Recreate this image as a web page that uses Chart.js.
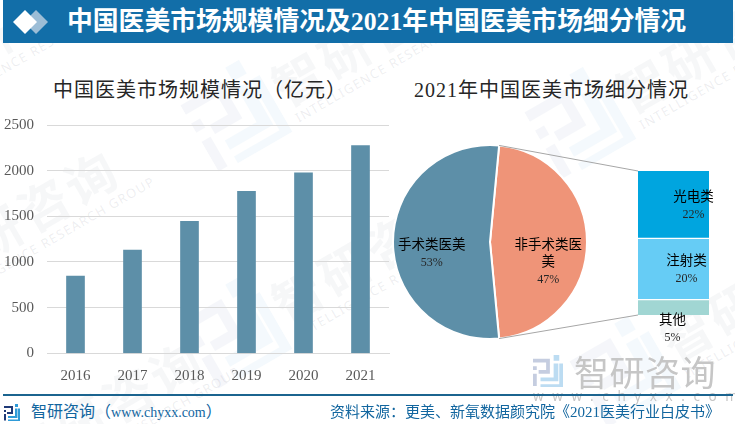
<!DOCTYPE html>
<html>
<head>
<meta charset="utf-8">
<script src="https://cdn.jsdelivr.net/npm/chart.js@4"></script>
<style>
html, body { margin: 0; padding: 0; background: #fff; }
#page { position: relative; width: 735px; height: 424px; overflow: hidden; font-family: "Liberation Serif", "Noto Sans CJK SC", serif; }
#page > * { position: absolute; }
canvas { position: absolute; }
#header { left: 3px; top: 0; width: 730px; height: 43px; background: #126ea8; }
#headerTitle { left: 67px; top: 6px; font-size: 25.8px; line-height: 32px; font-weight: bold; color: #fff; white-space: nowrap; }
.chartTitle { font-size: 20px; line-height: 26px; color: #262626; white-space: nowrap; letter-spacing: 1px; }
#footerLine { left: 3px; top: 394px; width: 730px; height: 2px; background: #1b648f; }
#footerLeft { left: 31px; top: 402px; font-size: 16px; line-height: 20px; color: #12669f; white-space: nowrap; }
#footerLeft span { font-size: 14px; }
#footerRight { left: 330px; top: 402px; font-size: 15px; line-height: 20px; color: #12669f; white-space: nowrap; }
.mark { left: 0; top: 0; transform-origin: 0 0; white-space: nowrap; }
.mark .cn { position: absolute; left: 38px; top: -32px; font-family: "Noto Sans CJK SC", sans-serif; font-size: 50px; line-height: 60px; letter-spacing: 4px; font-weight: bold; color: rgba(110,115,130,.06); }
.mark .en { position: absolute; left: 42px; top: 26px; font-family: "Noto Sans", sans-serif; font-size: 13px; line-height: 16px; letter-spacing: 1.2px; color: rgba(110,115,130,.12); }
.mark svg { position: absolute; left: -52px; top: -46px; width: 84px; height: 90px; opacity: .08; }
#bigCn { left: 574px; top: 350px; font-family: "Noto Sans CJK SC", sans-serif; font-size: 35px; line-height: 42px; letter-spacing: .5px; color: #c6c6c6; white-space: nowrap; }
#bigEn { left: 533px; top: 388px; font-family: "Noto Sans", sans-serif; font-size: 13.5px; line-height: 16px; letter-spacing: 8.6px; color: #c6c6c6; white-space: nowrap; }
</style>
</head>
<body>
<div id="page">
  <svg width="0" height="0" style="position:absolute">
    <symbol id="logoDark" viewBox="0 0 32 34"><path d="M0 4H18V20H6V16H14V8H0ZM0 12H4V16H0ZM0 20H4V33H0Z"/></symbol>
    <symbol id="logoLight" viewBox="0 0 32 34"><path d="M22 0H28V6H22ZM22 9H27V28H8V24H22ZM28 9H32V34H8V31H28Z"/></symbol>
  </svg>
  <div id="marks"></div>

  <canvas id="barChart" width="400" height="277" style="left:0;top:103px;width:400px;height:277px"></canvas>
  <canvas id="pieChart" width="200" height="200" style="left:390px;top:142px;width:200px;height:200px"></canvas>
  <canvas id="stackChart" width="355" height="230" style="left:380px;top:130px;width:355px;height:230px"></canvas>

  <div class="chartTitle" style="left:53px;top:77px">中国医美市场规模情况（亿元）</div>
  <div class="chartTitle" style="left:414px;top:77px">2021年中国医美市场细分情况</div>

  <svg style="left:533px;top:355px" width="30" height="32"><use href="#logoDark" fill="#c5cde0"/></svg>
  <svg style="left:533px;top:355px" width="30" height="32"><use href="#logoLight" fill="#bcdcf2"/></svg>
  <div id="bigCn">智研咨询</div>
  <div id="bigEn">www.chyxx.com</div>

  <div id="header"></div>
  <svg style="left:12px;top:9px" width="38" height="26">
    <polygon points="24,1 36,13 24,25 12,13" fill="#9cbdd6"/>
    <polygon points="13,1 25,13 13,25 1,13" fill="#fff"/>
  </svg>
  <div id="headerTitle">中国医美市场规模情况及2021年中国医美市场细分情况</div>

  <div id="footerLine"></div>
  <svg style="left:3px;top:404px" width="18" height="17"><use href="#logoDark" fill="#1f3a78"/></svg>
  <svg style="left:3px;top:404px" width="18" height="17"><use href="#logoLight" fill="#2f9bd8"/></svg>
  <div id="footerLeft">智研咨询（<span>www.chyxx.com</span>）</div>
  <div id="footerRight">资料来源：更美、新氧数据颜究院《2021医美行业白皮书》</div>
</div>

<script>
// Chart data
const years = ['2016', '2017', '2018', '2019', '2020', '2021'];
const marketSize = [845, 1130, 1446, 1774, 1975, 2274];
const yTicks = [0, 500, 1000, 1500, 2000, 2500];

const pieLabels = ['非手术类医美', '手术类医美'];
const pieValues = [47, 53];

const stackLabels = ['光电类', '注射类', '其他'];
const stackValues = [22, 20, 5];

const serif = '"Liberation Serif", "Noto Sans CJK SC", serif';
const pieColors = ['#ef9478', '#5d8fa8'];
const stackColors = ['#00a5df', '#66ccf5', '#a1d6d3'];

// Watermarks
const markSpots = [[243, 110], [243, 327], [587, 117], [632, 366], [-105, 290], [-116, 98], [-20, 480]];
document.getElementById('marks').innerHTML = markSpots.map(p =>
    `<div class="mark" style="transform:translate(${p[0]}px,${p[1]}px) rotate(-30deg)">
       <svg viewBox="0 0 32 34"><use href="#logoDark" fill="#8a9cc8"/><use href="#logoLight" fill="#7fc0ea"/></svg>
       <span class="cn">智研咨询</span>
       <span class="en">INTELLIGENCE RESEARCH GROUP</span>
     </div>`).join('');

// Two lines of text in a slice or segment: name on top, percent below
function drawLabel(ctx, lines, percent, x, y) {
    ctx.save();
    ctx.textAlign = 'center';
    ctx.textBaseline = 'middle';
    ctx.fillStyle = '#000';
    ctx.font = '13.5px ' + serif;
    lines.forEach((line, i) => ctx.fillText(line, x, y + i * 17.5));
    ctx.fillStyle = '#262626';
    ctx.font = '12px ' + serif;
    ctx.fillText(percent, x, y + lines.length * 17.5);
    ctx.restore();
}

function wrap(text, size) {
    let out = [];
    for (let i = 0; i < text.length; i += size) out.push(text.slice(i, i + size));
    return out;
}

new Chart(document.getElementById('barChart'), {
    type: 'bar',
    data: {
        labels: years,
        datasets: [{ data: marketSize, backgroundColor: '#5d8fa8', barThickness: 18 }]
    },
    options: {
        responsive: false,
        animation: false,
        layout: { padding: { top: 0, right: 11, bottom: 0, left: 0 } },
        plugins: { legend: { display: false }, tooltip: { enabled: false } },
        scales: {
            x: {
                grid: { display: false },
                border: { color: '#d9d9d9' },
                ticks: { color: '#595959', font: { family: serif, size: 15 }, padding: 6 },
                afterFit: scale => { scale.height = 26.7; }
            },
            y: {
                min: 0,
                max: 2500,
                afterBuildTicks: scale => { scale.ticks = yTicks.map(v => ({ value: v })); },
                afterFit: scale => { scale.width = 47; },
                grid: { color: '#d9d9d9', drawTicks: false },
                border: { display: false },
                ticks: { color: '#595959', font: { family: serif, size: 15 }, padding: 13, callback: v => String(v) }
            }
        }
    }
});

const pieChart = new Chart(document.getElementById('pieChart'), {
    type: 'pie',
    data: {
        labels: pieLabels,
        datasets: [{ data: pieValues, backgroundColor: pieColors, borderColor: '#fff', borderWidth: 2 }]
    },
    options: {
        responsive: false,
        animation: false,
        rotation: 5.4,
        layout: { padding: 2 },
        plugins: { legend: { display: false }, tooltip: { enabled: false } }
    },
    plugins: [{
        id: 'pieLabels',
        afterDatasetsDraw(chart) {
            chart.getDatasetMeta(0).data.forEach((arc, i) => {
                let mid = (arc.startAngle + arc.endAngle) / 2;
                let x = arc.x + Math.cos(mid) * arc.outerRadius * 0.6;
                drawLabel(chart.ctx, wrap(pieLabels[i], 5), pieValues[i] + '%', x, arc.y + 3);
            });
        }
    }]
});

const labelShift = [[20, -7], [13, -8], [-1, 13]];

new Chart(document.getElementById('stackChart'), {
    type: 'bar',
    data: {
        labels: ['非手术类医美'],
        datasets: stackLabels.map((name, i) => ({
            label: name,
            data: [stackValues[i]],
            backgroundColor: stackColors[i],
            borderColor: '#fff',
            borderWidth: { top: i > 0 ? 1 : 0, bottom: i < stackLabels.length - 1 ? 1 : 0 },
            borderSkipped: false
        }))
    },
    options: {
        responsive: false,
        animation: false,
        layout: { padding: { left: 258, right: 26, top: 41, bottom: 45 } },
        datasets: { bar: { barPercentage: 1, categoryPercentage: 1 } },
        plugins: { legend: { display: false }, tooltip: { enabled: false } },
        scales: {
            x: { stacked: true, display: false },
            y: { stacked: true, display: false, reverse: true, min: 0, max: 47 }
        }
    },
    plugins: [{
        id: 'connectors',
        afterDatasetsDraw(chart) {
            let ctx = chart.ctx;
            let box = chart.canvas.getBoundingClientRect();
            let pieBox = pieChart.canvas.getBoundingClientRect();
            let arc = pieChart.getDatasetMeta(0).data[0];
            let area = chart.chartArea;
            // connectors go from the two edges of the exploded slice to the stack's corners
            let ends = [[arc.startAngle, area.top], [arc.endAngle, area.bottom]];
            ctx.save();
            ctx.strokeStyle = '#a6a6a6';
            ctx.lineWidth = 1;
            ends.forEach(e => {
                ctx.beginPath();
                ctx.moveTo(arc.x + Math.cos(e[0]) * arc.outerRadius + pieBox.left - box.left,
                           arc.y + Math.sin(e[0]) * arc.outerRadius + pieBox.top - box.top);
                ctx.lineTo(area.left, e[1]);
                ctx.stroke();
            });
            ctx.restore();
            stackLabels.forEach((name, i) => {
                let bar = chart.getDatasetMeta(i).data[0];
                let mid = (bar.y + bar.base) / 2;
                drawLabel(ctx, [name], stackValues[i] + '%', bar.x + labelShift[i][0], mid + labelShift[i][1]);
            });
        }
    }]
});
</script>
</body>
</html>
